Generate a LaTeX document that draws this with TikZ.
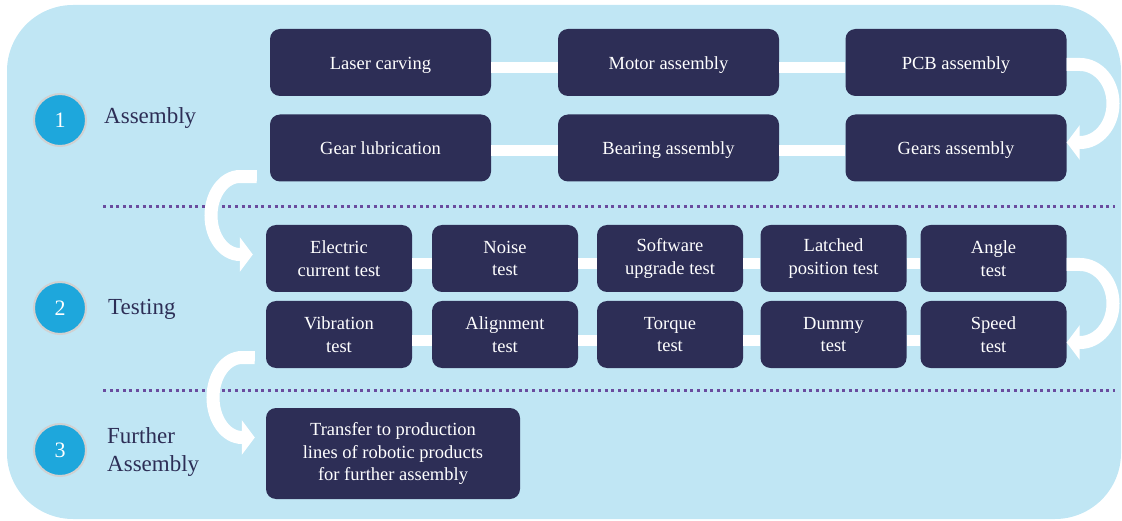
\documentclass[tikz,border=0pt]{standalone}
\usepackage{fontspec}
\setmainfont{Liberation Serif}
\usetikzlibrary{arrows.meta}
\definecolor{panel}{HTML}{C0E6F4}
\definecolor{navy}{HTML}{2D2E56}
\definecolor{badge}{HTML}{1EA7DC}
\definecolor{dots}{HTML}{6A4C9E}
\begin{document}
\begin{tikzpicture}[x=1pt,y=1pt,
  stepbox/.style={fill=navy, rounded corners=10pt, text=white, align=center,
    inner sep=0pt, font=\fontsize{18.5}{22.5}\selectfont},
  wide/.style={stepbox, minimum width=221pt, minimum height=67pt,
    text height=19pt, text depth=5pt},
  narrow/.style={stepbox, minimum width=146pt, minimum height=67pt},
  link/.style={white, line width=11pt},
  turn/.style={white, line width=13pt, -{Triangle[length=13pt,width=34pt]}},
  badgestyle/.style={circle, fill=badge, draw=black!18, line width=2pt,
    minimum size=52pt, inner sep=0pt, text=white, font=\fontsize{22}{26}\selectfont},
  phase/.style={anchor=west, text=navy, align=left, inner sep=0pt,
    font=\fontsize{23}{28}\selectfont},
  divider/.style={dots, line width=3pt, dash pattern=on 3pt off 3.6pt}
]
\useasboundingbox (0,0) rectangle (1122,520);

% background panel
\fill[panel, rounded corners=66pt] (7,1) rectangle (1121,515);

% phase dividers
\draw[divider] (103,313) -- (1115,313);
\draw[divider] (103,130) -- (1115,130);

% phase badges and titles
\node[badgestyle] (b1) at (60,400) {1};
\node[badgestyle] (b2) at (60,212) {2};
\node[badgestyle] (b3) at (60,70) {3};
\node[phase] (p1) at (104,402) {Assembly};
\node[phase] (p2) at (108,211) {Testing};
\node[phase] (p3) at (107,68) {Further\\Assembly};

% assembly steps
\node[wide] (laser)   at (380.5,457.5) {Laser carving};
\node[wide] (motor)   at (668.5,457.5) {Motor assembly};
\node[wide] (pcb)     at (956,457.5)   {PCB assembly};
\node[wide] (gearlub) at (380.5,372)   {Gear lubrication};
\node[wide] (bearing) at (668.5,372)   {Bearing assembly};
\node[wide] (gears)   at (956,372)     {Gears assembly};

% testing steps
\node[narrow] (elec)    at (339,261.5)   {Electric\\current test};
\node[narrow] (noise)   at (505,261.5)   {Noise\\test};
\node[narrow] (soft)    at (670,261.5)   {Software\\upgrade test};
\node[narrow] (latch)   at (833.5,261.5) {Latched\\position test};
\node[narrow] (angle)   at (993.5,261.5) {Angle\\test};
\node[narrow] (vib)     at (339,185.5)   {Vibration\\test};
\node[narrow] (align)   at (505,185.5)   {Alignment\\test};
\node[narrow] (torque)  at (670,185.5)   {Torque\\test};
\node[narrow] (dummy)   at (833.5,185.5) {Dummy\\test};
\node[narrow] (speed)   at (993.5,185.5) {Speed\\test};

% further assembly
\node[stepbox, minimum width=254pt, minimum height=91pt] (transfer) at (393,66.5)
  {Transfer to production\\lines of robotic products\\for further assembly};

% straight links within rows
\draw[link] ([yshift=-5pt]laser.east) -- ([yshift=-5pt]motor.west);
\draw[link] ([yshift=-5pt]motor.east) -- ([yshift=-5pt]pcb.west);
\draw[link] ([yshift=-3pt]gearlub.east) -- ([yshift=-3pt]bearing.west);
\draw[link] ([yshift=-3pt]bearing.east) -- ([yshift=-3pt]gears.west);
\draw[link] ([yshift=-5pt]elec.east) -- ([yshift=-5pt]noise.west);
\draw[link] ([yshift=-5pt]noise.east) -- ([yshift=-5pt]soft.west);
\draw[link] ([yshift=-5pt]soft.east) -- ([yshift=-5pt]latch.west);
\draw[link] ([yshift=-5pt]latch.east) -- ([yshift=-5pt]angle.west);
\draw[link] ([yshift=-6pt]vib.east) -- ([yshift=-6pt]align.west);
\draw[link] ([yshift=-6pt]align.east) -- ([yshift=-6pt]torque.west);
\draw[link] ([yshift=-6pt]torque.east) -- ([yshift=-6pt]dummy.west);
\draw[link] ([yshift=-6pt]dummy.east) -- ([yshift=-6pt]speed.west);

% turning arrows between rows
\draw[turn] ([yshift=-2pt]pcb.east) -- (1080,455.5)
  arc[start angle=90, end angle=-90, x radius=33, y radius=39]
  -- ([yshift=5.5pt]gears.east);
\draw[turn] ([shift={(-13pt,5pt)}]gearlub.south west) -- (240,343.5)
  arc[start angle=90, end angle=270, x radius=29, y radius=39]
  -- ([shift={(-13pt,4pt)}]elec.west);
\draw[turn] ([yshift=-6pt]angle.east) -- (1080,255.5)
  arc[start angle=90, end angle=-90, x radius=33, y radius=39]
  -- ([yshift=-8pt]speed.east);
\draw[turn] ([shift={(-11pt,10.5pt)}]vib.south west) -- (242,162.5)
  arc[start angle=90, end angle=270, x radius=29, y radius=40]
  -- ([shift={(-11pt,16pt)}]transfer.west);
\end{tikzpicture}
\end{document}
